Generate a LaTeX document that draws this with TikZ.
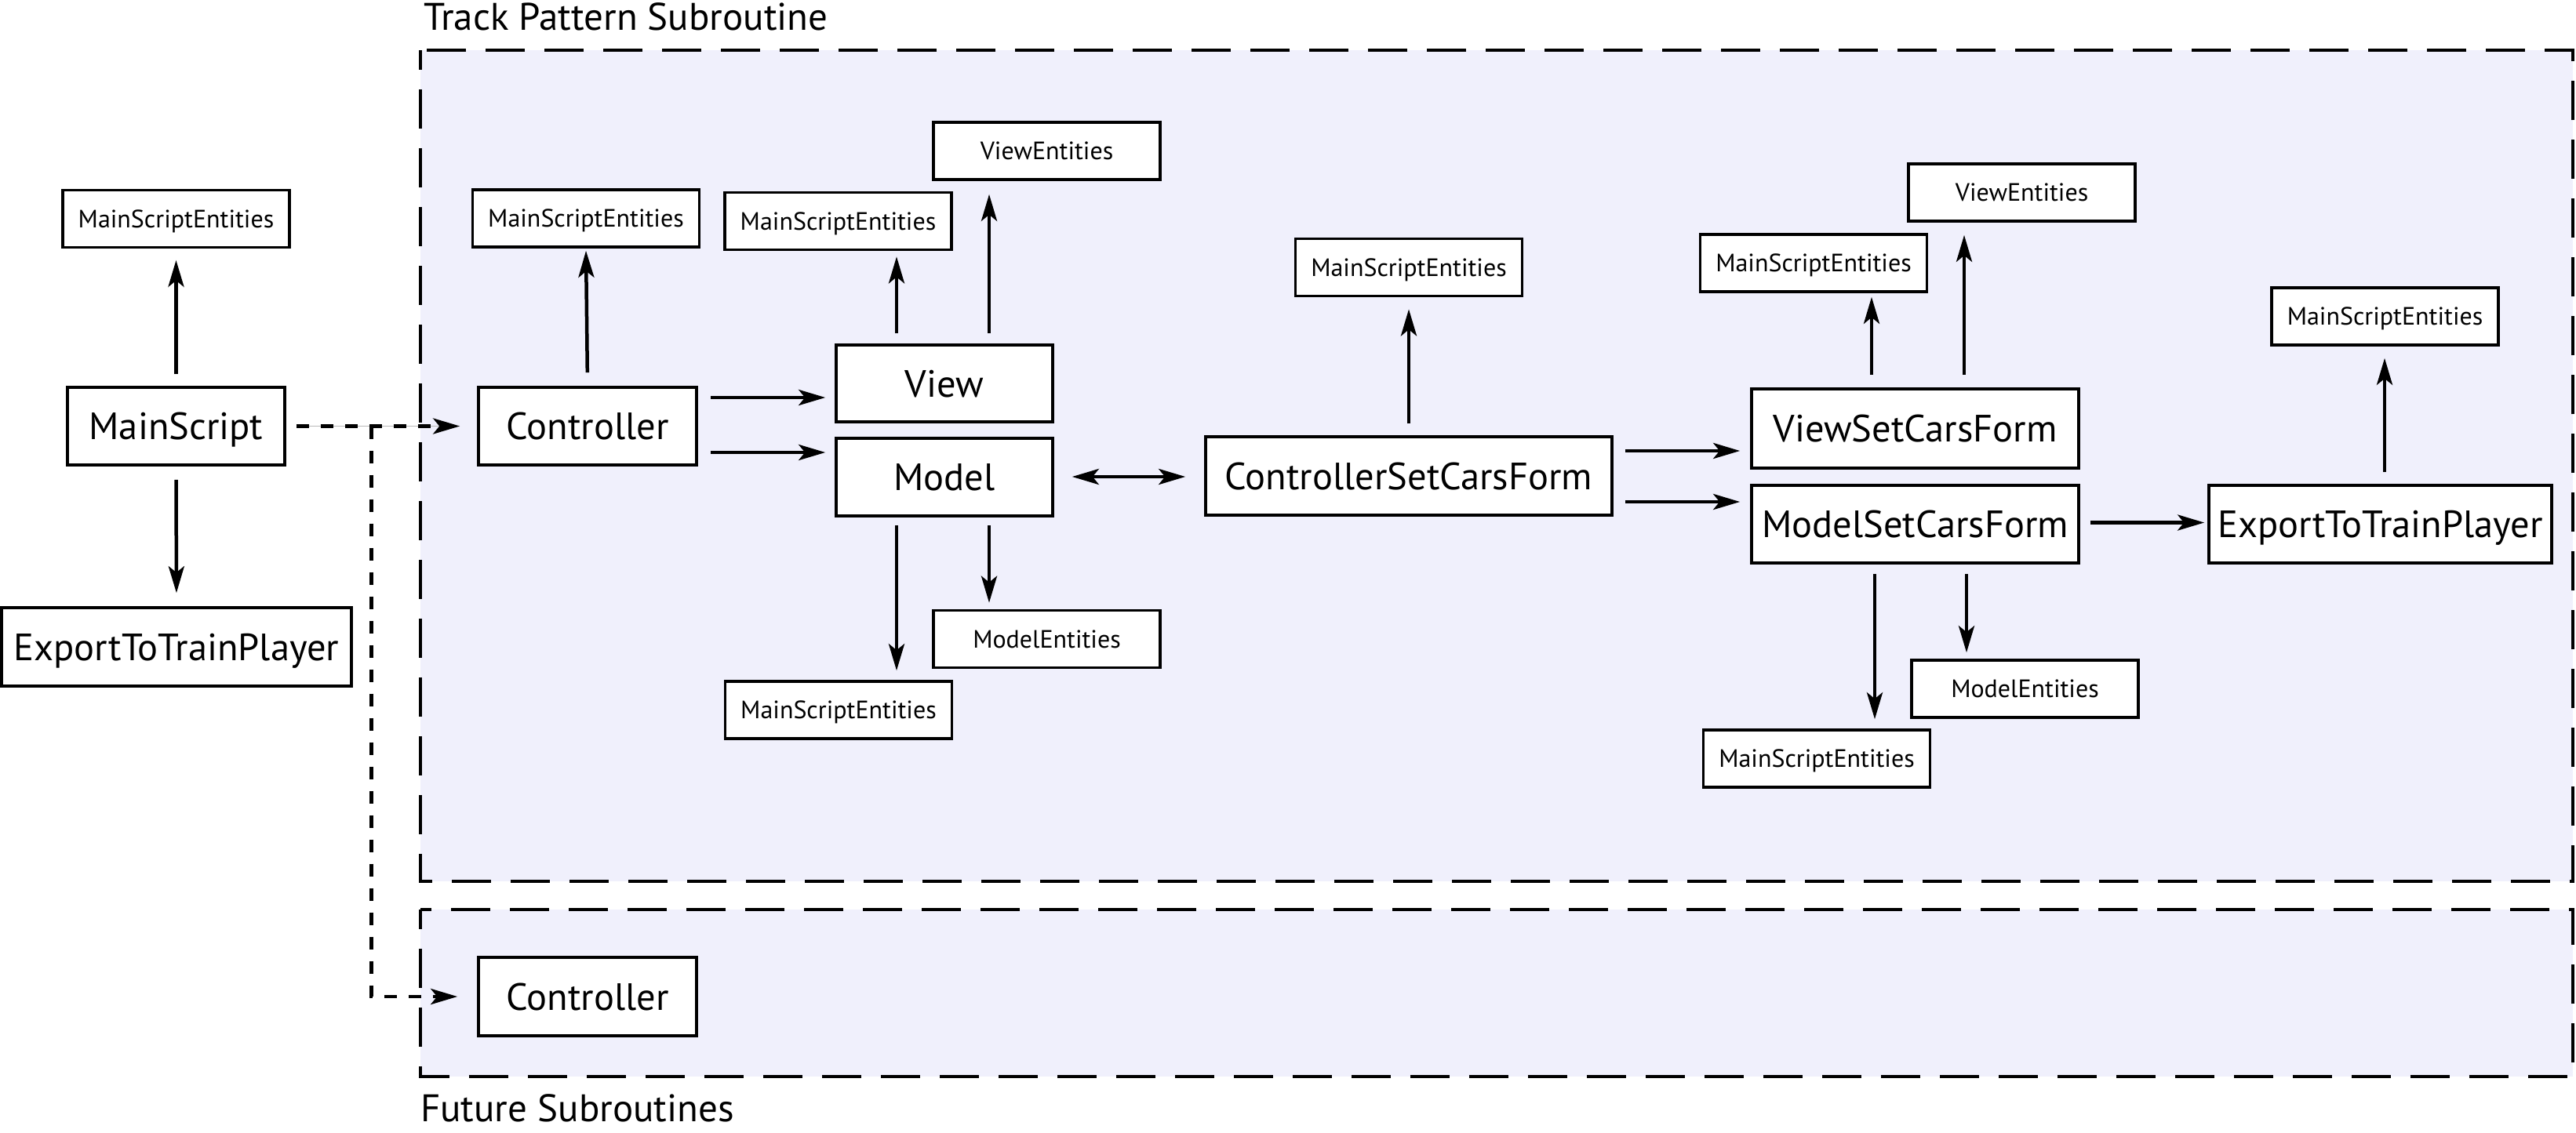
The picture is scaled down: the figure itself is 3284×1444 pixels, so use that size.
\documentclass[tikz,border=0pt]{standalone}
\usepackage{fontspec}
\setmainfont{PT Sans}
\usetikzlibrary{arrows.meta}
\definecolor{regionfill}{RGB}{240,240,252}
\newcommand\bigtxt{\fontsize{48.5pt}{54pt}\selectfont}
\newcommand\smalltxt{\fontsize{32pt}{37pt}\selectfont}
\newcommand\grouptxt{\fontsize{49pt}{55pt}\selectfont}

\begin{document}
\begin{tikzpicture}[x=1pt,y=-1pt,
  >={Stealth[length=34pt,width=20pt,inset=8pt]},
  box/.style={draw=black, line width=3.6pt, fill=white, inner sep=0pt, text depth=0pt},
  bigbox/.style={box, font=\bigtxt, text height=34pt, minimum height=99pt},
  smallbox/.style={box, font=\smalltxt, text height=22.5pt, minimum width=289pt, minimum height=73pt},
  region/.style={draw=black, fill=regionfill, line width=3.5pt,
                 dash pattern=on 50pt off 25pt, dash phase=25pt},
  arr/.style={line width=4.5pt, ->},
  link/.style={arr, dash pattern=on 16pt off 15pt},
  grouplabel/.style={font=\grouptxt, anchor=base west, inner sep=0pt},
]
\useasboundingbox (0,0) rectangle (3284,1444);

% subroutine groups
\path[region] (536,64) rectangle (3280,1124);
\path[region] (536,1160) rectangle (3280,1373);
\node[grouplabel] (tpslabel) at (540,38) {Track Pattern Subroutine};
\node[grouplabel] (fslabel) at (536,1430) {Future Subroutines};

% main script column
\node[smallbox] (msL) at (224.5,279) {MainScriptEntities};
\node[bigbox, minimum width=277pt] (mainscript) at (224.5,543.5) {MainScript};
\node[bigbox, minimum width=446pt, minimum height=100pt] (expL) at (225,825) {ExportToTrainPlayer};

% track pattern subroutine
\node[smallbox] (msC) at (747,278.5) {MainScriptEntities};
\node[bigbox, minimum width=278pt] (ctrl) at (749,543.5) {Controller};

\node[smallbox] (msV) at (1068.5,282) {MainScriptEntities};
\node[smallbox] (veL) at (1334.5,192.5) {ViewEntities};
\node[bigbox, minimum width=276pt, minimum height=98pt] (view) at (1204,489) {View};
\node[bigbox, minimum width=276pt] (model) at (1204,608.5) {Model};
\node[smallbox] (meL) at (1334.5,815) {ModelEntities};
\node[smallbox] (msM) at (1069,905.5) {MainScriptEntities};

\node[smallbox] (msCS) at (1796,341) {MainScriptEntities};
\node[bigbox, minimum width=518pt, minimum height=100pt] (cscf) at (1796,607) {ControllerSetCarsForm};

\node[smallbox] (msVR) at (2312,335.5) {MainScriptEntities};
\node[smallbox] (veR) at (2577.5,245.5) {ViewEntities};
\node[bigbox, minimum width=417pt, minimum height=101pt] (vscf) at (2441.5,546.5) {ViewSetCarsForm};
\node[bigbox, minimum width=417pt] (mscf) at (2441.5,668.5) {ModelSetCarsForm};
\node[smallbox] (meR) at (2581.5,878.5) {ModelEntities};
\node[smallbox] (msMR) at (2316,967.5) {MainScriptEntities};

\node[smallbox] (msER) at (3040.5,403.5) {MainScriptEntities};
\node[bigbox, minimum width=437pt] (expR) at (3034.5,668.5) {ExportToTrainPlayer};

% future subroutines
\node[bigbox, minimum width=278pt, minimum height=100pt] (ctrlF) at (749,1271) {Controller};

% arrow lanes
\coordinate (xv1) at (1143,0);
\coordinate (xv2) at (1261,0);
\coordinate (xr1) at (2386,0);
\coordinate (xr2) at (2504,0);
\coordinate (xr3) at (2390,0);
\coordinate (xr4) at (2507,0);
\coordinate (xe) at (3040,0);
\coordinate (yc1) at (0,507);
\coordinate (yc2) at (0,577);
\coordinate (ym) at (0,608);
\coordinate (ys1) at (0,575);
\coordinate (ys2) at (0,640);
\coordinate (yx) at (0,666.5);
\coordinate (split) at (473.3,543.5);

% main script links
\draw[arr, shorten <=15pt, shorten >=14.5pt] (mainscript.north) -- (msL.south);
\draw[arr, shorten <=17pt, shorten >=17pt] (mainscript.south) -- (expL.north);
\draw[gray!55, line width=1pt, shorten <=13pt, shorten >=40pt] (mainscript.east) -- (ctrl.west);
\draw[link, shorten <=13pt, shorten >=22pt] (mainscript.east) -- (ctrl.west);
\draw[link, shorten >=25pt] (split) |- (ctrlF.west);

% controller
\draw[arr, shorten <=17pt, shorten >=3pt] (ctrl.north) -- (msC.south);
\draw[arr, shorten <=16.5pt, shorten >=12pt] (ctrl.east |- yc1) -- (view.west |- yc1);
\draw[arr, shorten <=16.5pt, shorten >=12pt] (ctrl.east |- yc2) -- (model.west |- yc2);

% view and model
\draw[arr, shorten <=13pt, shorten >=7pt] (view.north -| xv1) -- (msV.south -| xv1);
\draw[arr, shorten <=13pt, shorten >=17pt] (view.north -| xv2) -- (veL.south -| xv2);
\draw[arr, shorten <=10pt, shorten >=12pt] (model.south -| xv1) -- (msM.north -| xv1);
\draw[arr, shorten <=10pt, shorten >=8pt] (model.south -| xv2) -- (meL.north -| xv2);
\draw[arr, <->, shorten <=23pt, shorten >=24pt] (model.east |- ym) -- (cscf.west |- ym);

% set cars form
\draw[arr, shorten <=15pt, shorten >=15pt] (cscf.north) -- (msCS.south);
\draw[arr, shorten <=15pt, shorten >=13pt] (cscf.east |- ys1) -- (vscf.west |- ys1);
\draw[arr, shorten <=15pt, shorten >=13pt] (cscf.east |- ys2) -- (mscf.west |- ys2);
\draw[arr, shorten <=16pt, shorten >=5pt] (vscf.north -| xr1) -- (msVR.south -| xr1);
\draw[arr, shorten <=16pt, shorten >=16pt] (vscf.north -| xr2) -- (veR.south -| xr2);
\draw[arr, shorten <=12pt, shorten >=12pt] (mscf.south -| xr3) -- (msMR.north -| xr3);
\draw[arr, shorten <=12pt, shorten >=8pt] (mscf.south -| xr4) -- (meR.north -| xr4);
\draw[arr, shorten <=13pt, shorten >=4pt] (mscf.east |- yx) -- (expR.west |- yx);
\draw[arr, shorten <=15pt, shorten >=15pt] (expR.north -| xe) -- (msER.south -| xe);
\end{tikzpicture}
\end{document}
